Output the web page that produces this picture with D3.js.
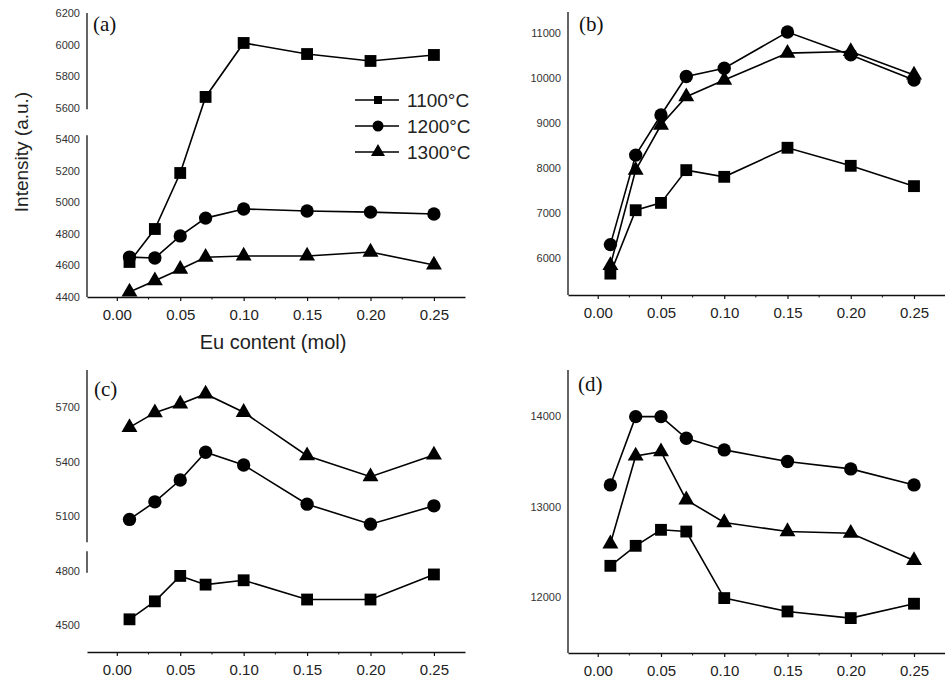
<!DOCTYPE html>
<html>
<head>
<meta charset="utf-8">
<script src="https://cdn.jsdelivr.net/npm/d3@7"></script>
<style>
  body { margin: 0; background: #fff; }
  svg { display: block; }
</style>
</head>
<body>
<svg id="chart" width="945" height="680"></svg>
<script>
// ---------- data ----------
const euContent = [0.01, 0.03, 0.05, 0.07, 0.10, 0.15, 0.20, 0.25];
const xTickValues = [0, 0.05, 0.10, 0.15, 0.20, 0.25];
const xMinorTicks = [0.025, 0.075, 0.125, 0.175, 0.225];
const seriesNames = ["1100°C", "1200°C", "1300°C"];

// panel (a)
const a1100 = [4622, 4831, 5186, 5668, 6010, 5940, 5896, 5934];
const a1200 = [4653, 4647, 4787, 4900, 4958, 4945, 4938, 4926];
const a1300 = [4432, 4503, 4576, 4652, 4660, 4660, 4685, 4603];
const aYTicks = [4400, 4600, 4800, 5000, 5200, 5400, 5600, 5800, 6000, 6200];

// panel (b)
const b1100 = [5653, 7062, 7225, 7953, 7804, 8450, 8049, 7597];
const b1200 = [6298, 8287, 9178, 10033, 10218, 11022, 10514, 9955];
const b1300 = [5837, 7953, 8955, 9586, 9955, 10553, 10590, 10069];
const bYTicks = [6000, 7000, 8000, 9000, 10000, 11000];

// panel (c)
const c1100 = [4533, 4632, 4772, 4724, 4748, 4642, 4642, 4780];
const c1200 = [5083, 5180, 5300, 5453, 5383, 5167, 5057, 5158];
const c1300 = [5590, 5671, 5719, 5774, 5673, 5434, 5318, 5438];
const cYTicks = [4500, 4800, 5100, 5400, 5700];

// panel (d)
const d1100 = [12348, 12568, 12744, 12725, 11993, 11846, 11773, 11931];
const d1200 = [13238, 13989, 13989, 13751, 13623, 13495, 13414, 13238];
const d1300 = [12590, 13557, 13604, 13074, 12824, 12725, 12707, 12407];
const dYTicks = [12000, 13000, 14000];

// ---------- layout ----------
const svg = d3.select("#chart");
const textColor = "#222";
const symbols = [d3.symbolSquare, d3.symbolCircle, d3.symbolTriangle];
const symbolSizes = [140, 140, 110];

const panels = [
  { label: "(a)", left: 87, right: 465, top: 13, bottom: 297,
    yDomain: [4400, 6200], yTicks: aYTicks, series: [a1100, a1200, a1300],
    axisSegments: [[4400, 5425], [5590, 6200]], labelPos: [93, 31] },
  { label: "(b)", left: 568, right: 945, top: 12, bottom: 295,
    yDomain: [5178, 11467], yTicks: bYTicks, series: [b1100, b1200, b1300],
    axisSegments: null, labelPos: [579, 31] },
  { label: "(c)", left: 87, right: 465, top: 370, bottom: 652,
    yDomain: [4353, 5906], yTicks: cYTicks, series: [c1100, c1200, c1300],
    axisSegments: [[4790, 4908], [4958, 5906]], labelPos: [94, 396] },
  { label: "(d)", left: 568, right: 945, top: 370, bottom: 653,
    yDomain: [11389, 14502], yTicks: dYTicks, series: [d1100, d1200, d1300],
    axisSegments: null, labelPos: [578, 391] }
];

panels.forEach(p => {
  const x = d3.scaleLinear().domain([-0.0235, 0.2745]).range([p.left, p.right]);
  const y = d3.scaleLinear().domain(p.yDomain).range([p.bottom, p.top]);
  const g = svg.append("g");

  // x axis
  const xAxis = d3.axisBottom(x).tickValues(xTickValues)
    .tickFormat(d3.format(".2f")).tickSize(4).tickSizeOuter(0);
  const gx = g.append("g").attr("transform", `translate(0,${p.bottom})`).call(xAxis);
  gx.select(".domain").attr("stroke", "#111").attr("stroke-width", 1.3);
  gx.selectAll(".tick line").attr("stroke", "#111").attr("stroke-width", 1.2);
  gx.selectAll(".tick text").attr("fill", textColor)
    .attr("font-family", "Liberation Sans, Arial, sans-serif")
    .attr("font-size", 15).attr("dy", "1.05em");
  g.append("g").selectAll("line").data(xMinorTicks).join("line")
    .attr("x1", d => x(d)).attr("x2", d => x(d))
    .attr("y1", p.bottom).attr("y2", p.bottom + 2.5)
    .attr("stroke", "#111").attr("stroke-width", 1);

  // y axis (labels only, no tick marks)
  const yAxis = d3.axisLeft(y).tickValues(p.yTicks).tickFormat(d3.format("d"))
    .tickSize(0).tickPadding(7);
  const gy = g.append("g").attr("transform", `translate(${p.left},0)`).call(yAxis);
  gy.select(".domain").remove();
  gy.selectAll(".tick text").attr("fill", "#333")
    .attr("font-family", "Liberation Sans Narrow, Liberation Sans, Arial, sans-serif")
    .attr("font-size", 11);

  // y axis line (with possible break)
  const segs = p.axisSegments || [p.yDomain];
  g.append("g").selectAll("line").data(segs).join("line")
    .attr("x1", p.left).attr("x2", p.left)
    .attr("y1", d => y(d[0])).attr("y2", d => y(d[1]))
    .attr("stroke", "#111").attr("stroke-width", 1.3);

  // series
  const line = d3.line().x((d, i) => x(euContent[i])).y(d => y(d));
  p.series.forEach((vals, si) => {
    g.append("path").datum(vals).attr("d", line)
      .attr("fill", "none").attr("stroke", "#000").attr("stroke-width", 1.6);
    g.append("g").selectAll("path").data(vals).join("path")
      .attr("transform", (d, i) => `translate(${x(euContent[i])},${y(d)})`)
      .attr("d", d3.symbol().type(symbols[si]).size(symbolSizes[si]))
      .attr("fill", "#000");
  });

  // panel label
  g.append("text").attr("x", p.labelPos[0]).attr("y", p.labelPos[1])
    .attr("font-family", "Liberation Serif, Times New Roman, serif")
    .attr("font-size", 21).attr("fill", "#111").text(p.label);
});

// legend in panel (a)
const legend = svg.append("g");
const legendY = [100, 126, 152];
const legendSizes = [64, 95, 85];
seriesNames.forEach((name, i) => {
  const row = legend.append("g").attr("transform", `translate(0,${legendY[i]})`);
  row.append("line").attr("x1", 355).attr("x2", 399).attr("y1", 0).attr("y2", 0)
    .attr("stroke", "#000").attr("stroke-width", 1.4);
  row.append("path").attr("transform", "translate(378,0)")
    .attr("d", d3.symbol().type(symbols[i]).size(legendSizes[i])).attr("fill", "#000");
  row.append("text").attr("x", 407).attr("y", 0).attr("dy", "0.36em")
    .attr("font-family", "Liberation Sans, Arial, sans-serif")
    .attr("font-size", 19).attr("fill", textColor).text(name);
});

// axis titles
svg.append("text").attr("x", 273).attr("y", 349).attr("text-anchor", "middle")
  .attr("font-family", "Liberation Sans, Arial, sans-serif")
  .attr("font-size", 20).attr("fill", textColor).text("Eu content (mol)");
svg.append("text").attr("transform", "translate(28,152) rotate(-90)")
  .attr("text-anchor", "middle")
  .attr("font-family", "Liberation Sans, Arial, sans-serif")
  .attr("font-size", 19).attr("fill", textColor).text("Intensity (a.u.)");
</script>
</body>
</html>
